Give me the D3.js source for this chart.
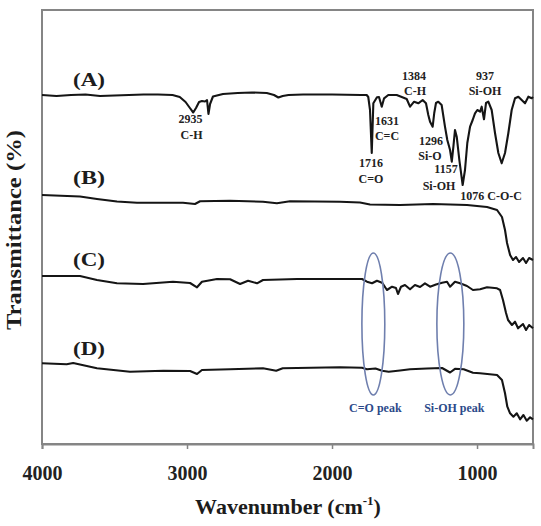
<!DOCTYPE html>
<html>
<head>
<meta charset="utf-8">
<script src="https://cdn.jsdelivr.net/npm/d3@7"></script>
<style>
  html, body { margin: 0; padding: 0; background: #fff; }
  svg { display: block; }
  text { font-family: "Liberation Serif", "Times New Roman", serif; font-weight: bold; }
</style>
</head>
<body>
<svg id="chart" width="541" height="526"></svg>
<script>
// ---- data: [wavenumber (cm-1), transmittance (arbitrary offset units)] ----
const spectrumA = [
  [4000,349],[3900,348],[3800,349],[3700,349.5],[3600,348],[3500,348.5],[3400,349],[3300,349.5],
  [3200,349.5],[3100,349],[3050,347],[3010,342],[2980,336],[2957,331.5],[2938,336],[2917,342],
  [2897,343],[2876,342.5],[2862,344],[2852,330],[2841,340],[2821,347.5],[2752,350],[2650,351],
  [2552,351.5],[2450,351],[2400,349],[2370,346.5],[2340,348],[2300,349],[2200,349.5],[2000,349.5],
  [1800,349],[1761,349],[1750,347],[1738,334],[1726,291],[1715,340.7],[1690,346.7],[1676,347],
  [1657,337.3],[1641,345.7],[1612,349],[1554,349],[1519,347],[1485,345],[1462,337.3],[1434,342.3],
  [1405,340.7],[1375,344],[1352,340.7],[1336,329],[1324,322.3],[1306,317.3],[1295,331],[1283,341],
  [1267,342.3],[1244,339],[1221,317.3],[1205,304],[1186,294],[1174,282.3],[1163,297.3],[1152,314],
  [1140,307.3],[1122,284],[1099,259],[1083,274],[1067,301],[1048,317.3],[1030,324],[1014,330.7],
  [998,334],[979,332.3],[968,337.3],[952,324.7],[938,341],[922,342.3],[899,334],[876,311],
  [853,291],[830,280.7],[807,291],[784,311],[761,334],[738,345.7],[715,347.3],[692,344],
  [669,340.7],[646,347.3],[623,345.7],[614,347]
];
const spectrumB = [
  [4000,249],[3738,247.5],[3621,245],[3483,242.5],[3345,241.3],[3028,241.3],[2945,240],[2910,242.7],
  [2703,243.3],[2476,242.3],[2380,240.7],[2290,242.7],[1945,242.3],[1807,241.5],[1738,239.5],
  [1531,239],[1303,240],[1069,239],[931,237],[862,234],[828,227],[807,214],[793,201],[772,189],
  [752,184],[731,187],[710,182],[683,186],[662,181],[641,186],[614,184]
];
const spectrumC = [
  [4000,168],[3738,168],[3621,164],[3483,160.7],[3303,160],[3097,162.3],[2979,161],[2931,156.7],
  [2897,162.3],[2793,165],[2703,164.7],[2634,160],[2579,163.3],[2517,160.7],[2476,164],[2241,165],
  [1945,165],[1793,165],[1759,162.3],[1724,160.7],[1690,163.3],[1655,161.3],[1621,154],[1586,157.3],
  [1559,156],[1545,150],[1524,157.3],[1497,159],[1462,154.7],[1428,159],[1393,157],[1359,160.7],
  [1324,157.3],[1283,159.5],[1241,161.3],[1207,162.3],[1186,157.3],[1152,162.3],[1117,160.7],
  [1069,158],[1028,154],[979,154.7],[931,156.7],[862,155.7],[841,154],[821,144],[800,131],
  [786,124],[759,119],[738,122.3],[717,115.7],[683,120],[662,114],[641,119],[614,115.7]
];
const spectrumD = [
  [4000,80.7],[3830,79.7],[3785,81],[3621,75.7],[3393,72.3],[3163,73.3],[2979,73],[2931,70],
  [2897,74],[2703,74.7],[2476,75.7],[2385,73.3],[2340,75.7],[1945,76.7],[1793,76.3],[1759,74.7],
  [1700,75.5],[1655,73.3],[1609,72.3],[1531,73.5],[1462,74.7],[1345,75.5],[1241,76],[1186,71.5],
  [1152,75.2],[1092,74.7],[1028,71.3],[979,70.7],[862,69],[828,64],[807,50.7],[791,37.3],
  [772,30.7],[749,27.3],[726,30.7],[703,24.7],[680,29],[657,23.3],[634,26.7],[614,24.7]
];
const seriesNames = ["(A)", "(B)", "(C)", "(D)"];
const seriesLabelT = [358, 260, 178, 89];
const xTicks = [4000, 3000, 2000, 1000];
// peak annotations: [text, wavenumber, transmittance]
const peakTexts = [
  ["2935", 2976, 321], ["C-H", 2969, 305],
  ["1716", 1731, 277], ["C=O", 1731, 261],
  ["1631", 1621, 319], ["C=C", 1621, 304],
  ["1384", 1434, 364], ["C-H", 1427, 349],
  ["1296", 1317, 299], ["Si-O", 1324, 284],
  ["1157", 1214, 271], ["Si-OH", 1262, 254],
  ["937", 945, 364], ["Si-OH", 945, 349],
  ["1076 C-O-C", 903, 244]
];
// highlighted peak regions: [label, centre wavenumber, half-width (cm-1)]
const highlightNames = ["C=O peak", "Si-OH peak"];
const highlightCentres = [1715, 1184];
const highlightHalfWidths = [79, 93];

// ---- layout ----
const svg = d3.select("#chart");
const L = 42, R = 533, T = 10, B = 444;
const x = d3.scaleLinear().domain([4000, 614]).range([L, R]);
const y = d3.scaleLinear().domain([0, 434]).range([B, T]);

// frame
svg.append("rect").attr("x", L).attr("y", T).attr("width", R - L).attr("height", B - T)
  .attr("fill", "none").attr("stroke", "#858585").attr("stroke-width", 2);

// x axis
const ax = svg.append("g").attr("transform", `translate(0,${B})`)
  .call(d3.axisBottom(x).tickValues(xTicks).tickSize(5).tickFormat(d3.format("d")));
ax.select(".domain").attr("stroke", "#858585").attr("stroke-width", 2);
ax.selectAll(".tick line").attr("stroke", "#858585").attr("stroke-width", 1.5);
ax.selectAll(".tick text").attr("y", 36).attr("dy", 0)
  .attr("font-size", 20).attr("fill", "#222")
  .style("font-family", '"Liberation Serif", "Times New Roman", serif').style("font-weight", "bold");

// spectra
const line = d3.line().x(d => x(d[0])).y(d => y(d[1]));
[spectrumA, spectrumB, spectrumC, spectrumD].forEach(s => {
  svg.append("path").datum(s).attr("d", line)
    .attr("fill", "none").attr("stroke", "#151515").attr("stroke-width", 2.1)
    .attr("stroke-linejoin", "round");
});

// series labels
seriesNames.forEach((n, i) => {
  svg.append("text").attr("x", x(3786)).attr("y", y(seriesLabelT[i]))
    .attr("font-size", 19).attr("fill", "#1c1c1c")
    .attr("textLength", 32).attr("lengthAdjust", "spacingAndGlyphs").text(n);
});

// peak annotations
peakTexts.forEach(p => {
  svg.append("text").attr("x", x(p[1])).attr("y", y(p[2]))
    .attr("text-anchor", "middle").attr("font-size", 12).attr("fill", "#222").text(p[0]);
});

// highlighted ellipses
highlightNames.forEach((n, i) => {
  const cx = x(highlightCentres[i]);
  const rx = x(highlightCentres[i] - highlightHalfWidths[i]) - cx;
  svg.append("ellipse").attr("cx", cx).attr("cy", y(120))
    .attr("rx", rx).attr("ry", y(0) - y(71))
    .attr("fill", "none").attr("stroke", "#6f7fae").attr("stroke-width", 1.6);
  svg.append("text").attr("x", cx + (i === 0 ? 2 : 4)).attr("y", y(32))
    .attr("text-anchor", "middle").attr("font-size", 12).attr("fill", "#2c4a8a").text(n);
});

// axis titles
const xt = svg.append("text").attr("x", 288).attr("y", 514).attr("text-anchor", "middle")
  .attr("font-size", 22).attr("fill", "#1c1c1c");
xt.append("tspan").text("Wavenumber (cm");
xt.append("tspan").attr("font-size", 13).attr("dy", -9).text("-1");
xt.append("tspan").attr("dy", 9).text(")");

svg.append("text").attr("transform", "translate(21,230) rotate(-90)")
  .attr("text-anchor", "middle").attr("font-size", 20).attr("fill", "#1c1c1c")
  .attr("textLength", 200).attr("lengthAdjust", "spacingAndGlyphs")
  .text("Transmittance (%)");
</script>
</body>
</html>
